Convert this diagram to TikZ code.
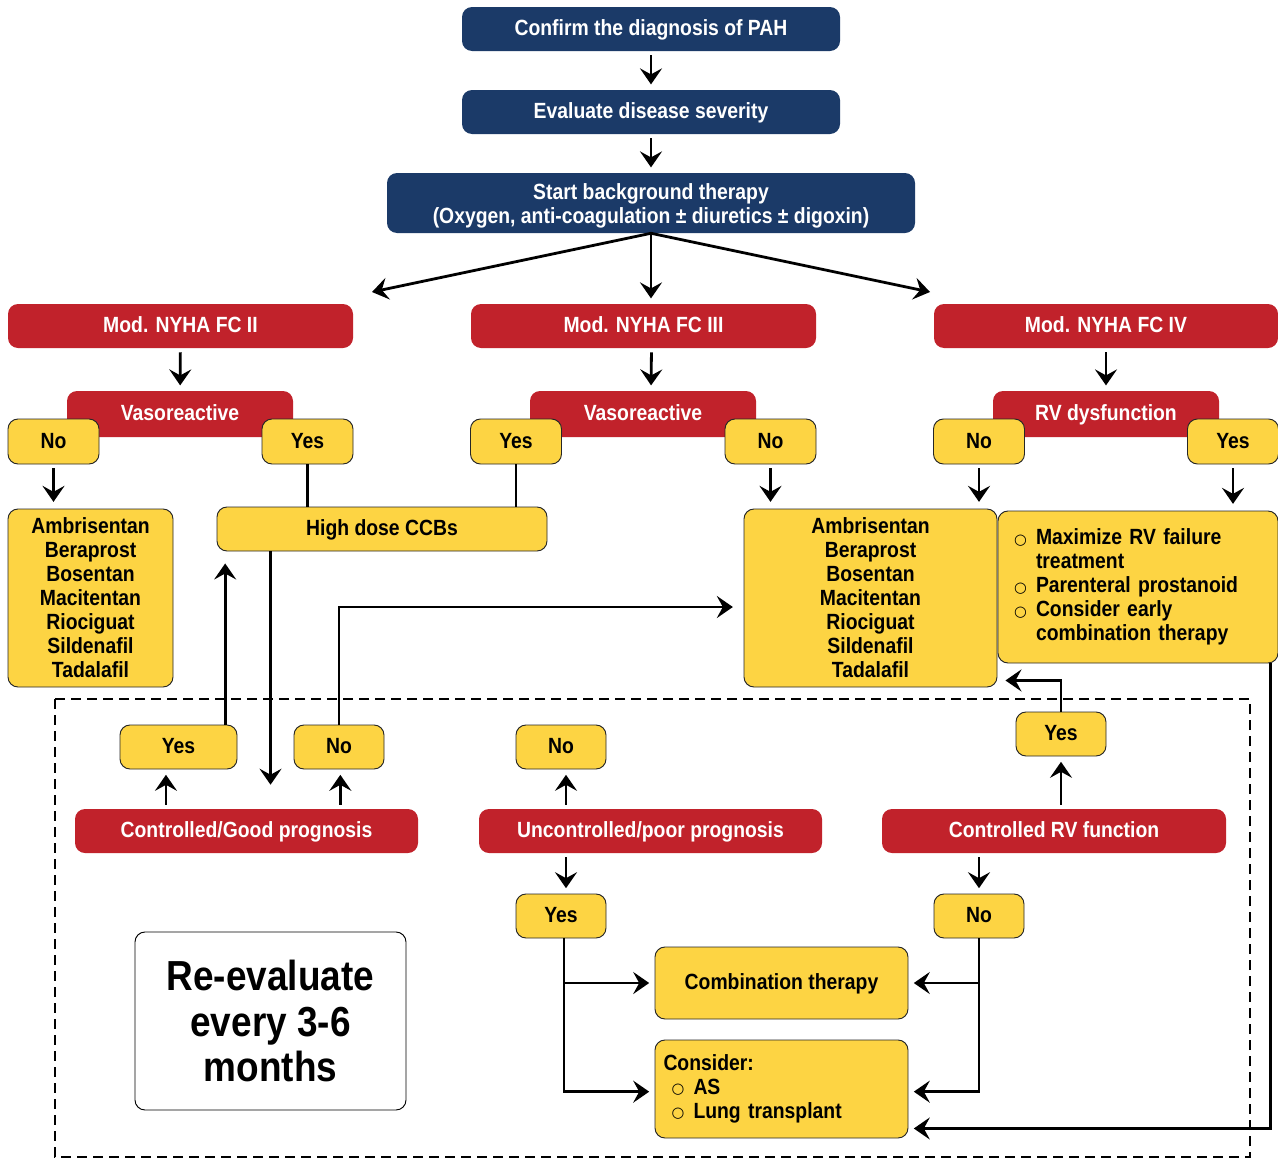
\documentclass[tikz,border=0pt]{standalone}
\usepackage{fontspec}
\setmainfont{Liberation Sans}[FakeStretch=0.88]
\newfontfamily\djv{DejaVu Sans}
\usetikzlibrary{arrows.meta}
\definecolor{navy}{HTML}{1B3A68}
\definecolor{crim}{HTML}{C1222B}
\definecolor{gold}{HTML}{FDD443}
\newcommand\bul{\makebox[16.5pt][l]{\raisebox{0.5pt}{\djv\fontsize{11}{11}\selectfont ○}}}
\tikzset{
  wd/.style={minimum width=#1*0.75pt},
  ht/.style={minimum height=#1*0.75pt},
  base/.style={rounded corners=7.5pt, inner sep=0pt, font=\fontsize{16.5}{18}\selectfont\bfseries, align=center},
  lbl/.style={text height=1.0em, text depth=0pt},
  bluebox/.style={base, fill=navy, text=white},
  redbox/.style={base, fill=crim, text=white},
  ybox/.style={base, fill=gold, draw=black!85, line width=0.7pt, text=black},
  arr/.style={-{Stealth[length=12pt,width=16.5pt,inset=4.5pt]}, line width=2.1pt, shorten <=3pt, shorten >=4pt},
  ln/.style={line width=2.1pt}
}
\begin{document}
\begin{tikzpicture}[x=0.75pt,y=-0.75pt]
\useasboundingbox (0,0) rectangle (1278,1160);
% dashed re-evaluation frame
\draw[line width=1.6pt, dash pattern=on 7.5pt off 4.5pt] (55,699) rectangle (1250,1157);

% top
\node[bluebox, lbl, wd=378, ht=44] (b1) at (651,29) {Confirm the diagnosis of PAH};
\node[bluebox, lbl, wd=378, ht=44] (b2) at (651,112) {Evaluate disease severity};
\node[bluebox, wd=528, ht=60] (b3) at (651,203) {};
\node[base, text=white] (b3t) at (651,206) {Start background therapy\\(Oxygen, anti-coagulation ± diuretics ± digoxin)};
\coordinate (lt) at (372,292);
\coordinate (rt) at (930,292);

% functional classes
\node[redbox, lbl, wd=345, ht=44] (r1) at (180.5,326) {Mod. NYHA FC II};
\node[redbox, lbl, wd=345, ht=44] (r2) at (643.5,326) {Mod. NYHA FC III};
\node[redbox, lbl, wd=344, ht=44] (r3) at (1106,326) {Mod. NYHA FC IV};

\node[redbox, wd=226, ht=46] (v1) at (180,414) {};
\node[redbox, wd=226, ht=46] (v2) at (643,414) {};
\node[redbox, wd=226, ht=46] (v3) at (1106,414) {};
\node[base, lbl, text=white] (v1t) at (180,414) {Vasoreactive};
\node[base, lbl, text=white] (v2t) at (643,414) {Vasoreactive};
\node[base, lbl, text=white] (v3t) at (1106,414) {RV dysfunction};

\node[ybox, lbl, wd=91, ht=45] (no1) at (53.5,441.5) {No};
\node[ybox, lbl, wd=91, ht=45] (yes1) at (307.5,441.5) {Yes};
\node[ybox, lbl, wd=91, ht=45] (yes2) at (516,441.5) {Yes};
\node[ybox, lbl, wd=91, ht=45] (no2) at (770.5,441.5) {No};
\node[ybox, lbl, wd=91, ht=45] (no3) at (979,441.5) {No};
\node[ybox, lbl, wd=91, ht=45] (yes3) at (1233,441.5) {Yes};

\node[ybox, wd=165, ht=178] (drugs1) at (90.5,598) {Ambrisentan\\Beraprost\\Bosentan\\Macitentan\\Riociguat\\Sildenafil\\Tadalafil};
\node[ybox, lbl, wd=330, ht=44] (hd) at (382,529) {High dose CCBs};
\node[ybox, wd=253, ht=178] (drugs2) at (870.5,598) {Ambrisentan\\Beraprost\\Bosentan\\Macitentan\\Riociguat\\Sildenafil\\Tadalafil};
\node[ybox, wd=280, ht=152, align=left, text width=186pt, inner xsep=12pt] (max) at (1138,587)
  {\bul Maximize RV failure\\\hspace*{16.5pt}treatment\\\bul Parenteral prostanoid\\\bul Consider early\\\hspace*{16.5pt}combination therapy};

% re-evaluation
\node[ybox, lbl, wd=117, ht=44] (yesA) at (178.5,747) {Yes};
\node[ybox, lbl, wd=90, ht=44] (noA) at (339,747) {No};
\node[ybox, lbl, wd=90, ht=44] (noB) at (561,747) {No};
\node[ybox, lbl, wd=90, ht=44] (yesC) at (1061,734) {Yes};
\node[redbox, lbl, wd=343, ht=44] (ctrl) at (246.5,831) {Controlled/Good prognosis};
\node[redbox, lbl, wd=343, ht=44] (unc) at (650.5,831) {Uncontrolled/poor prognosis};
\node[redbox, lbl, wd=344, ht=44] (rvf) at (1054,831) {Controlled RV function};
\node[ybox, lbl, wd=90, ht=44] (yesB) at (561,916) {Yes};
\node[ybox, lbl, wd=90, ht=44] (noC) at (979,916) {No};
\node[ybox, lbl, wd=253, ht=72] (comb) at (781.5,983) {Combination therapy};
\node[ybox, wd=253, ht=98, align=left, text width=177pt, inner xsep=6pt] (cons) at (781.5,1089)
  {Consider:\\\hspace*{6pt}\bul AS\\\hspace*{6pt}\bul Lung transplant};
\node[base, draw=black, line width=0.7pt, fill=white, wd=271, ht=178, font=\fontsize{31.5}{34}\selectfont\bfseries] (reev) at (270.5,1021) {Re-evaluate\\every 3-6\\months};

% connectors top
\draw[arr] (b1) -- (b2);
\draw[arr] (b2) -- (b3);
\draw[arr, shorten <=0pt] (b3.south) -- (b3.south |- r2.north);
\draw[arr, shorten <=0pt, shorten >=0pt] (b3.south) -- (lt);
\draw[arr, shorten <=0pt, shorten >=0pt] (b3.south) -- (rt);
\draw[arr] (r1) -- (v1);
\draw[arr] ([xshift=6pt]r2.south) -- ([xshift=6pt]v2.north);
\draw[arr] (r3) -- (v3);
\draw[arr, shorten >=5pt] (no1.south) -- (no1.south |- drugs1.north);
\draw[arr, shorten >=5pt] (no2.south) -- (no2.south |- drugs2.north);
\draw[arr, shorten >=5pt] (no3.south) -- (no3.south |- drugs2.north);
\draw[arr, shorten >=5pt] (yes3.south) -- (yes3.south |- max.north);
\draw[ln] (yes1.south) -- (yes1.south |- hd.north);
\draw[ln] (yes2.south) -- (yes2.south |- hd.north);

% re-evaluation connectors
\draw[arr, shorten <=0pt, shorten >=9pt] ([xshift=35pt]yesA.north) -- ([xshift=35pt]yesA.north |- hd.south);
\draw[arr, shorten <=0pt, shorten >=18pt] ([xshift=40.5pt]hd.south west) -- ([xshift=40.5pt]hd.south west |- ctrl.north);
\draw[arr, shorten <=0pt, shorten >=8pt] (noA.north) |- ([yshift=-6.75pt]drugs2.west);
\draw[arr] ([xshift=-9.4pt]yesA.south |- ctrl.north) -- ([xshift=-9.4pt]yesA.south);
\draw[arr] ([xshift=1pt]noA.south |- ctrl.north) -- ([xshift=1pt]noA.south);
\draw[arr] ([xshift=3.75pt]noB.south |- unc.north) -- ([xshift=3.75pt]noB.south);
\draw[arr] ([xshift=3.75pt]yesB.north |- unc.south) -- ([xshift=3.75pt]yesB.north);
\draw[arr] (yesC.south |- rvf.north) -- (yesC.south);
\draw[arr, shorten <=0pt, shorten >=6pt] (yesC.north) |- ([yshift=5.25pt]drugs2.south east);
\draw[arr] (noC.north |- rvf.south) -- (noC.north);
\draw[arr, shorten <=0pt] ([xshift=2.25pt]yesB.south) |- ([yshift=-2pt]cons.west);
\draw[arr, shorten <=0pt] ([xshift=2.25pt]yesB.south |- comb.west) -- (comb.west);
\draw[arr, shorten <=0pt] (noC.south) |- ([yshift=-2pt]cons.east);
\draw[arr, shorten <=0pt] (noC.south |- comb.east) -- (comb.east);
\draw[arr, shorten <=0pt] ([xshift=-6pt]max.south east) |- ([yshift=7.5pt]cons.south east);
\end{tikzpicture}
\end{document}
